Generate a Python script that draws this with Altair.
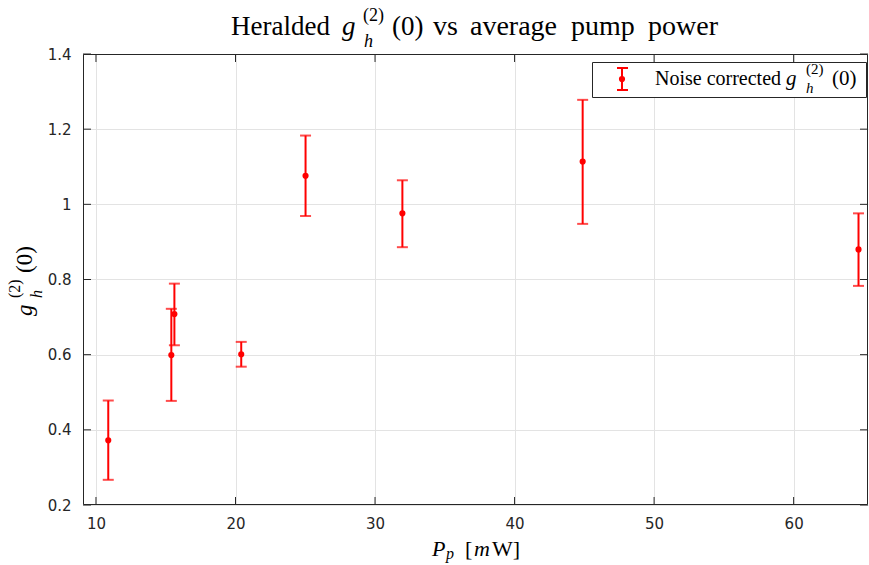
import altair as alt
import pandas as pd

# ---- data ----
power = [10.88, 15.40, 15.62, 20.41, 25.02, 31.96, 44.88, 64.65]
g2 = [0.372, 0.599, 0.708, 0.601, 1.076, 0.976, 1.114, 0.880]
g2_low = [0.267, 0.477, 0.625, 0.568, 0.969, 0.886, 0.948, 0.783]
g2_high = [0.478, 0.722, 0.789, 0.634, 1.183, 1.064, 1.278, 0.976]
x_ticks = [10, 20, 30, 40, 50, 60]
y_ticks = [0.2, 0.4, 0.6, 0.8, 1.0, 1.2, 1.4]

df = pd.DataFrame({"P": power, "g": g2, "lo": g2_low, "hi": g2_high})
xt = pd.DataFrame({"v": x_ticks})
yt = pd.DataFrame({"v": y_ticks})
one = pd.DataFrame({"k": [0]})

W, H = 785, 451
RED = "#FF0000"
INK = "#262626"
SERIF = "Liberation Serif"
TL = 8  # inner tick length

xs = alt.Scale(domain=[9.07, 65.33], nice=False, zero=False)
ys = alt.Scale(domain=[0.2, 1.4], nice=False, zero=False)

xaxis = alt.Axis(values=x_ticks, title=None, ticks=False, tickSize=0, domain=False,
                 grid=True, gridColor="#E3E3E3", gridWidth=1,
                 labelFont="DejaVu Sans", labelFontSize=15, labelColor=INK,
                 labelPadding=11, labelAngle=0, labelFlush=False)
yaxis = alt.Axis(values=y_ticks, title=None, ticks=False, tickSize=0, domain=False,
                 grid=True, gridColor="#E3E3E3", gridWidth=1, format="~g",
                 labelFont="DejaVu Sans", labelFontSize=15, labelColor=INK,
                 labelPadding=12)


def X(field):
    return alt.X(f"{field}:Q", scale=xs, axis=xaxis)


def Y(field):
    return alt.Y(f"{field}:Q", scale=ys, axis=yaxis)


base = alt.Chart(df)
bars = base.mark_rule(color=RED, strokeWidth=2).encode(x=X("P"), y=Y("lo"), y2="hi:Q")
cap_lo = base.mark_tick(color=RED, orient="horizontal", size=11, thickness=2).encode(x=X("P"), y=Y("lo"))
cap_hi = base.mark_tick(color=RED, orient="horizontal", size=11, thickness=2).encode(x=X("P"), y=Y("hi"))
pts = base.mark_circle(color=RED, size=38, opacity=1).encode(x=X("P"), y=Y("g"))

# inward ticks on all four sides (MATLAB box style)
tk = dict(color=INK, strokeWidth=1)
tx_bot = alt.Chart(xt).mark_rule(**tk).encode(x=X("v"), y=alt.value(H), y2=alt.value(H - TL))
tx_top = alt.Chart(xt).mark_rule(**tk).encode(x=X("v"), y=alt.value(0), y2=alt.value(TL))
ty_left = alt.Chart(yt).mark_rule(**tk).encode(y=Y("v"), x=alt.value(0), x2=alt.value(TL))
ty_right = alt.Chart(yt).mark_rule(**tk).encode(y=Y("v"), x=alt.value(W), x2=alt.value(W - TL))

frame = alt.Chart(one).mark_rect(fillOpacity=0, stroke=INK, strokeWidth=1).encode(
    x=alt.value(0.5), x2=alt.value(W - 0.5), y=alt.value(0.5), y2=alt.value(H - 0.5))


def label(txt, x, y, size, italic=False, angle=0, color="black"):
    return alt.Chart(one).mark_text(
        font=SERIF, fontSize=size, fontStyle="italic" if italic else "normal",
        align="left", baseline="alphabetic", angle=angle, color=color,
    ).encode(text=alt.value(txt), x=alt.value(x), y=alt.value(y))


# title: Heralded g_h^(2)(0) vs average pump power
title = [
    label("Heralded", 148, -19, 27),
    label("g", 259, -19, 27, italic=True),
    label("(2)", 280, -33, 18),
    label("h", 281, -7, 18, italic=True),
    label("(0)", 309, -19, 27),
    label("vs", 350, -19, 28),
    label("average", 387, -19, 28),
    label("pump", 488, -19, 28),
    label("power", 565, -19, 28),
]

# x axis title: P_p [mW]
xtitle = [
    label("P", 349, 502, 22, italic=True),
    label("p", 363, 505, 16, italic=True),
    label("[", 382, 502, 22),
    label("m", 391, 502, 22, italic=True),
    label("W]", 409, 502, 22),
]

# y axis title: g_h^(2)(0), rotated
ytitle = [
    label("g", -51, 262, 23, italic=True, angle=270),
    label("(2)", -63, 244, 16, angle=270),
    label("h", -41, 244, 16, italic=True, angle=270),
    label("(0)", -51, 219, 23, angle=270),
]

# legend
leg_box = alt.Chart(one).mark_rect(fill="white", stroke=INK, strokeWidth=1).encode(
    x=alt.value(509.5), x2=alt.value(783.5), y=alt.value(8.5), y2=alt.value(43.5))
leg_bar = alt.Chart(one).mark_rule(color=RED, strokeWidth=2).encode(
    x=alt.value(539), y=alt.value(14), y2=alt.value(36))
leg_cap1 = alt.Chart(one).mark_rule(color=RED, strokeWidth=2).encode(
    x=alt.value(534), x2=alt.value(545), y=alt.value(14))
leg_cap2 = alt.Chart(one).mark_rule(color=RED, strokeWidth=2).encode(
    x=alt.value(534), x2=alt.value(545), y=alt.value(36))
leg_dot = alt.Chart(one).mark_circle(color=RED, size=38, opacity=1).encode(
    x=alt.value(539), y=alt.value(25))
legend = [
    leg_box, leg_bar, leg_cap1, leg_cap2, leg_dot,
    label("Noise corrected", 572, 31, 20),
    label("g", 703, 31, 21, italic=True),
    label("(2)", 723, 20, 15),
    label("h", 723, 39, 15, italic=True),
    label("(0)", 749, 31, 21),
]

chart = alt.layer(
    tx_bot, tx_top, ty_left, ty_right, bars, cap_lo, cap_hi, pts, frame,
    *legend, *title, *xtitle, *ytitle,
).properties(
    width=W, height=H,
    autosize=alt.AutoSizeParams(type="none"),
    padding={"left": 83, "top": 54, "right": 1, "bottom": 60},
    background="white",
).configure_view(stroke=None)

chart.save("out.html", embed_options={"renderer": "svg", "actions": False})
